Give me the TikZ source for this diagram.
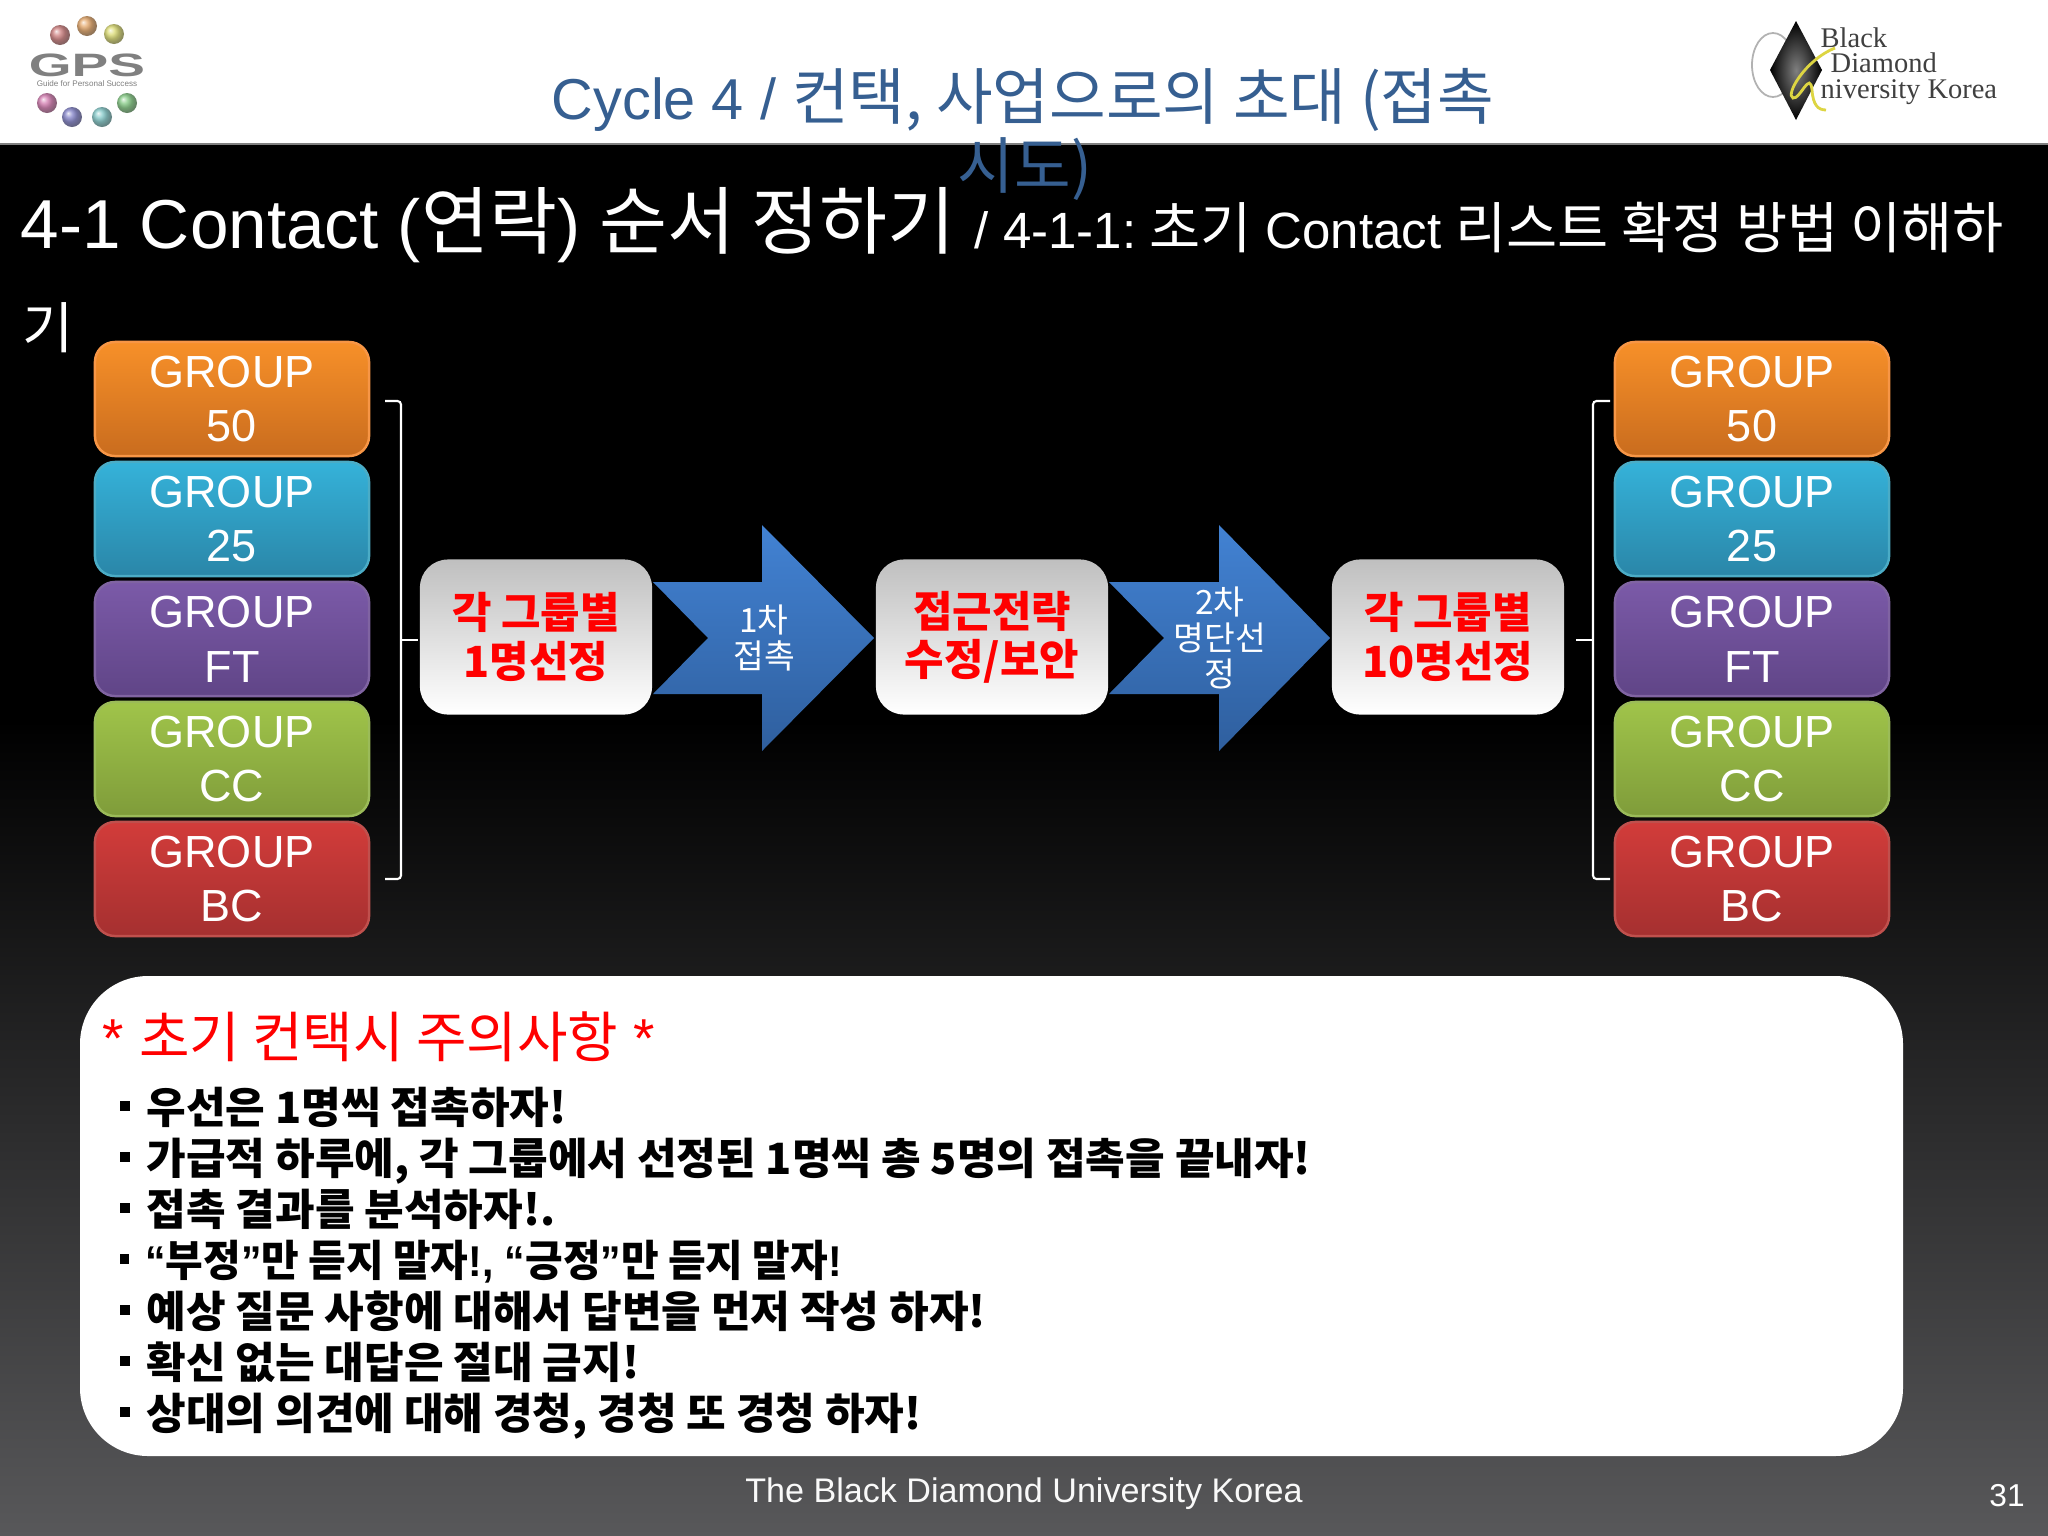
\documentclass[tikz,border=0pt]{standalone}
\usepackage{fontspec}
\setmainfont{Liberation Sans}
\newfontfamily\kr{Noto Sans CJK KR}
\newfontfamily\serifkr{Liberation Serif}
\definecolor{titleblue}{HTML}{365F91}
\definecolor{panelgray}{HTML}{58585A}
\definecolor{arrowtop}{HTML}{4282D3}
\definecolor{arrowbot}{HTML}{2F5F9E}
\definecolor{orangetop}{HTML}{F79029}
\definecolor{orangebot}{HTML}{C96C1E}
\definecolor{orangeedge}{HTML}{F79646}
\definecolor{aquatop}{HTML}{35B2D9}
\definecolor{aquabot}{HTML}{2A86A8}
\definecolor{aquaedge}{HTML}{4BACC6}
\definecolor{purpletop}{HTML}{7B5AA8}
\definecolor{purplebot}{HTML}{604587}
\definecolor{purpleedge}{HTML}{8064A2}
\definecolor{greentop}{HTML}{A0C44A}
\definecolor{greenbot}{HTML}{7F9C3A}
\definecolor{greenedge}{HTML}{9BBB59}
\definecolor{redtop}{HTML}{D23C3A}
\definecolor{redbot}{HTML}{A53030}
\definecolor{rededge}{HTML}{C0504D}
\tikzset{
	groupbox/.style={rectangle,rounded corners=.2cm,minimum width=2.74cm,minimum height=1.14cm,inner sep=0pt,align=center,text=white,line width=.7pt,font=\fontsize{12.8}{15.6}\selectfont},
	orangebox/.style={groupbox,draw=orangeedge,top color=orangetop,bottom color=orangebot},
	aquabox/.style={groupbox,draw=aquaedge,top color=aquatop,bottom color=aquabot},
	purplebox/.style={groupbox,draw=purpleedge,top color=purpletop,bottom color=purplebot},
	greenbox/.style={groupbox,draw=greenedge,top color=greentop,bottom color=greenbot},
	redbox/.style={groupbox,draw=rededge,top color=redtop,bottom color=redbot},
	pickbox/.style={rectangle,rounded corners=.28cm,minimum width=2.32cm,minimum height=1.55cm,inner sep=0pt,align=center,text=red,top color=black!25,bottom color=white,font=\kr\bfseries\fontsize{12.2}{13.7}\selectfont},
	arrowshape/.style={top color=arrowtop,bottom color=arrowbot},
	arrowlabel/.style={inner sep=0pt,align=center,text=white,font=\kr\fontsize{9.5}{10.3}\selectfont},
	bracketline/.style={draw=white,line width=.6pt,rounded corners=1pt},
	noteline/.style={anchor=base west,inner sep=0pt,text=black,font=\kr\bfseries\fontsize{12.25}{14}\selectfont},
}
\newcommand{\notebullet}{\rule[.28em]{.1cm}{.1cm}\hspace{.17cm}}
\begin{document}
\begin{tikzpicture}[x=.01cm,y=-.01cm]
	\useasboundingbox (0,0) rectangle (2048,1536);
	\fill[white] (0,0) rectangle (2048,144);
	\fill[black] (0,144) rectangle (2048,720);
	\shade[top color=black,bottom color=panelgray] (0,720) rectangle (2048,1536);
	\draw[gray,line width=.5pt] (0,144) -- (2048,144);
	% left logo
	\shade[ball color=red!45!gray,opacity=.7] (60,35) circle [radius=10];
	\shade[ball color=orange!70!gray,opacity=.7] (87,26) circle [radius=10];
	\shade[ball color=yellow!60!gray,opacity=.7] (114,34) circle [radius=10];
	\shade[ball color=red!40!magenta!50!gray,opacity=.7] (47,103) circle [radius=10];
	\shade[ball color=blue!40!gray,opacity=.7] (72,117) circle [radius=10];
	\shade[ball color=cyan!40!gray,opacity=.7] (102,117) circle [radius=10];
	\shade[ball color=green!40!gray,opacity=.7] (127,103) circle [radius=10];
	\node[inner sep=0pt,xscale=1.7,text=gray,font=\bfseries\fontsize{9.2}{10}\selectfont] (gpsmark) at (87,65) {GPS};
	\node[inner sep=0pt,text=gray,font=\fontsize{2.3}{3}\selectfont] (gpsline) at (87,84) {Guide for Personal Success};
	% right logo
	\draw[gray!60,line width=.5pt] (1773,65) ellipse [x radius=21,y radius=32];
	\shade[inner color=black!50,outer color=black] (1796,21) -- (1822,70) -- (1796,120) -- (1770,70) -- cycle;
	\draw[yellow!70!gray,line width=.8pt] (1835,48) .. controls (1805,60) and (1785,95) .. (1793,98) .. controls (1800,100) and (1810,70) .. (1812,90) .. controls (1813,105) and (1818,110) .. (1826,110);
	\node[anchor=base west,inner sep=0pt,text=black!75,font=\serifkr\fontsize{8.1}{9}\selectfont] (logoblack) at (1820,47) {Black};
	\node[anchor=base west,inner sep=0pt,text=black!75,font=\serifkr\fontsize{8.1}{9}\selectfont] (logodiamond) at (1830,72) {Diamond};
	\node[anchor=base west,inner sep=0pt,text=black!75,font=\serifkr\fontsize{8.1}{9}\selectfont] (logouniv) at (1820,98) {niversity Korea};
	% titles
	\node[inner sep=0pt,anchor=base,text=titleblue,font=\fontsize{16.4}{18}\selectfont] (cycletitle) at (1023,119) {Cycle 4 / {\kr\fontsize{17.5}{18}\selectfont 컨택, 사업으로의 초대 (접촉}};
	\node[inner sep=0pt,anchor=base,text=titleblue,font=\kr\fontsize{17.5}{18}\selectfont] (cycletitleb) at (1025,188) {시도)};
	\node[inner sep=0pt,anchor=base west,text=white,font=\fontsize{19.7}{24}\selectfont] (steptitle) at (20,248) {4-1 Contact ({\kr\fontsize{21}{24}\selectfont 연락}) {\kr\fontsize{21}{24}\selectfont 순서 정하기} {\fontsize{14.5}{18}\selectfont / 4-1-1:\hspace{-.06cm} {\kr\fontsize{15.8}{18}\selectfont 초기} Contact {\kr\fontsize{15.8}{18}\selectfont 리스트 확정 방법 이해하}}};
	\node[inner sep=0pt,anchor=base west,text=white,font=\kr\fontsize{15.8}{18}\selectfont] (steptitleb) at (22,348) {기};
	% left groups
	\node[orangebox] (lfifty) at (232,399) {GROUP\\50};
	\node[aquabox] (ltwentyfive) at (232,519) {GROUP\\25};
	\node[purplebox] (lft) at (232,639) {GROUP\\FT};
	\node[greenbox] (lcc) at (232,759) {GROUP\\CC};
	\node[redbox] (lbc) at (232,879) {GROUP\\BC};
	% right groups
	\node[orangebox] (rfifty) at (1752,399) {GROUP\\50};
	\node[aquabox] (rtwentyfive) at (1752,519) {GROUP\\25};
	\node[purplebox] (rft) at (1752,639) {GROUP\\FT};
	\node[greenbox] (rcc) at (1752,759) {GROUP\\CC};
	\node[redbox] (rbc) at (1752,879) {GROUP\\BC};
	% brackets
	\coordinate (ltop) at (385,401);
	\coordinate (lspinetop) at (401,401);
	\coordinate (lspinebot) at (401,879);
	\coordinate (lbot) at (385,879);
	\coordinate (lmid) at (401,640);
	\coordinate (ltick) at (418,640);
	\draw[bracketline] (ltop) -- (lspinetop) -- (lspinebot) -- (lbot);
	\draw[bracketline] (lmid) -- (ltick);
	\coordinate (rtop) at (1610,401);
	\coordinate (rspinetop) at (1593,401);
	\coordinate (rspinebot) at (1593,879);
	\coordinate (rbot) at (1610,879);
	\coordinate (rmid) at (1593,640);
	\coordinate (rtick) at (1576,640);
	\draw[bracketline] (rtop) -- (rspinetop) -- (rspinebot) -- (rbot);
	\draw[bracketline] (rmid) -- (rtick);
	% arrows
	\shade[arrowshape] (653,582) -- (762,582) -- (762,525) -- (874,638) -- (762,751) -- (762,694) -- (653,694) -- (708,638) -- cycle;
	\shade[arrowshape] (1109,582) -- (1219,582) -- (1219,525) -- (1330,638) -- (1219,751) -- (1219,694) -- (1109,694) -- (1164,638) -- cycle;
	\node[arrowlabel] (firstlabel) at (764,638) {1차\\접촉};
	\node[arrowlabel] (secondlabel) at (1220,638) {2차\\명단선\\정};
	% picks
	\node[pickbox] (pickone) at (536,637) {각 그룹별\\1명선정};
	\node[pickbox] (pickfix) at (992,637) {접근전략\\수정/보안};
	\node[pickbox] (pickten) at (1448,637) {각 그룹별\\10명선정};
	% notes
	\fill[white,rounded corners=.68cm] (80,976) rectangle (1903,1456);
	\node[anchor=base west,inner sep=0pt,text=red,font=\fontsize{15.6}{18}\selectfont] (noteshead) at (102,1057) {* {\kr 초기 컨택시 주의사항} *};
	\node[noteline] (noteone) at (119,1123) {\notebullet 우선은 1명씩 접촉하자!};
	\node[noteline] (notetwo) at (119,1174) {\notebullet 가급적 하루에, 각 그룹에서 선정된 1명씩 총 5명의 접촉을 끝내자!};
	\node[noteline] (notethree) at (119,1225) {\notebullet 접촉 결과를 분석하자!.};
	\node[noteline,xscale=.95] (notefour) at (119,1276) {\notebullet {\rmfamily “}부정{\rmfamily ”}만 듣지 말자{\rmfamily !, “}긍정{\rmfamily ”}만 듣지 말자{\rmfamily !}};
	\node[noteline] (notefive) at (119,1327) {\notebullet 예상 질문 사항에 대해서 답변을 먼저 작성 하자!};
	\node[noteline] (notesix) at (119,1378) {\notebullet 확신 없는 대답은 절대 금지!};
	\node[noteline] (noteseven) at (119,1429) {\notebullet 상대의 의견에 대해 경청, 경청 또 경청 하자!};
	% footer
	\node[inner sep=0pt,text=white!95!gray,font=\fontsize{9.7}{12}\selectfont] (footer) at (1024,1494) {The Black Diamond University Korea};
	\node[inner sep=0pt,text=white,font=\fontsize{9}{11}\selectfont] (pagenum) at (2007,1496) {31};
\end{tikzpicture}
\end{document}
